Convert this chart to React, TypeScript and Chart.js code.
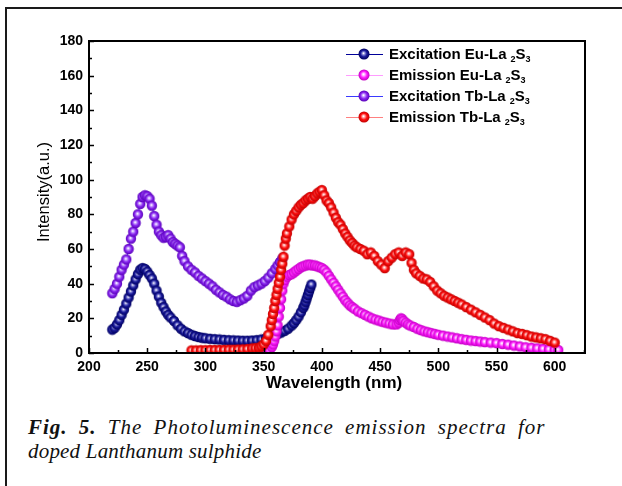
import React, { useEffect, useRef } from "react";
import { Chart, registerables } from "chart.js";

Chart.register(...registerables);

// ---------- data ----------
const excEuWl = [220,222,224,226,228,230,232,234,236,238,240,242,244,246,248,250,252,254,256,258,260,262,264,266,268,270,
  273,276,279,282,285,288,291,294,297,300,
  304,308,312,316,320,324,328,332,336,340,
  344,348,352,356,
  359,362,365,368,371,374,
  376,378,380,382,384,
  385,386,387,388,389,390,391];
const excEuVal = [13.5,14.5,16.5,19,22,25,28.5,32,35.5,39,42.5,45.5,48,49,48.5,47,45,43,40,36,32.5,29,26.5,24,22,20.5,
  18.5,16,14,12.5,11.5,10.5,9.8,9.2,8.8,8.5,
  8.2,8,7.8,7.6,7.4,7.3,7.2,7.1,7.1,7.2,
  7.4,7.8,8.5,9.4,
  10.2,11,11.8,12.8,14,15.8,
  17.2,19,21,23.5,26,
  27.5,29.5,31.5,33.5,35.5,37.5,39.5];

const emEuWl = [350,353,355,357,
  358,359,360,361,362,363,364,365,366,367,368,
  370,372,374,376,378,380,382,384,386,388,390,392,394,396,398,400,402,404,406,408,410,412,414,416,418,420,422,424,426,428,
  431,434,437,440,443,446,449,452,455,458,461,464,
  466,467,468,469,470,
  472,474,476,
  479,482,485,488,491,494,497,
  500,504,508,512,516,520,524,528,532,536,540,
  545,550,555,560,565,570,575,580,585,590,595,600,
  603];
const emEuVal = [0.5,1,1.8,3.5,
  5,7,9.5,12.5,16,21,26,31,36,40,42,
  44,45,45.5,46.5,47.5,48.5,49.5,50,50.5,51,51,50.5,50.5,50,49.5,49,48,46.5,44.5,42.5,40.5,38.5,36.5,34.5,32.5,30.5,29,27.5,26.5,25.5,
  24,23,22,21,20,19.3,18.7,18,17.5,17,16.5,16.5,
  17.5,19,20,19.5,18.5,
  17.5,16.5,15.8,
  15,14,13.2,12.5,12,11.5,11,
  10.5,10,9.5,9,8.5,8,7.6,7.2,6.9,6.6,6.3,
  6,5.7,5.2,4.8,4.3,3.8,3.3,3,2.7,2.4,2.1,1.9,
  1.7];

const excTbWl = [220,222,224,226,228,230,232,234,236,238,240,242,244,246,248,250,252,254,256,258,260,262,264,266,268,270,272,274,276,278,280,282,
  285,288,291,294,297,300,303,306,309,312,315,318,321,324,327,330,333,336,339,342,345,348,351,354,357,360,
  362,364,366];
const excTbVal = [34.5,37,40,44,48,51,54,60,66,70,75,80,86,90,91,90.5,89,85,79,74,70,68,66.5,67,68,66,64,63,62,61,56,53,
  50,48,46.5,44.5,43,41.5,40,38.5,36.5,35,33.5,32.5,31,30,29.5,30.5,31.5,33,36,38,39,40,41.5,43.5,46,48.5,
  50.5,52.5,54.5];

const emTbWl = [288,292,296,300,304,308,312,316,320,324,328,332,336,340,
  343,346,348,350,352,354,356,
  357,358,359,360,361,362,363,364,365,366,367,368,369,370,
  372,374,376,378,380,382,384,386,388,390,392,394,396,398,400,402,404,406,408,410,412,414,416,418,420,422,424,426,428,430,
  433,436,439,442,445,448,451,454,457,460,463,466,469,472,475,
  477,479,481,
  484,487,490,493,496,499,502,505,508,511,514,517,520,
  524,528,532,536,540,544,548,552,556,560,564,568,572,576,580,584,588,592,596,600];
const emTbVal = [1.5,1.5,1.6,1.6,1.7,1.7,1.8,1.8,1.9,1.9,2,2.1,2.3,2.6,
  2.8,3,3.8,5,7,10.5,15.5,
  19,22.5,26,30,33.5,37,40.5,44,48,51.5,55.5,62,66,69,
  73,77,80,82,84,85.5,86.5,88,89,90,89,90.5,92,93,94,91,88,86.5,84,81,78,75.5,74,71.5,69,67,65,63.5,62,61,
  60,59,57,58,56,53,51,49,53,55,57,58,56,58,57,
  52,48,46,
  44.5,43,42.5,41,38.5,36,34.5,33,32,31,30,29,28,
  26.5,25,23.5,22,20.5,19,17,15.5,14.5,13.5,12.5,11.5,11,10.3,9.5,9,8.5,8,7,6];

const seriesNames = ["Excitation Eu-La", "Emission Eu-La", "Excitation Tb-La", "Emission Tb-La"];
const xTickValues = [200, 250, 300, 350, 400, 450, 500, 550, 600];
const yTickValues = [0, 20, 40, 60, 80, 100, 120, 140, 160, 180];
const xTitle = "Wavelength (nm)";
const yTitle = "Intensity(a.u.)";

// ---------- styles ----------
const ballStyles = [
  { base: "#1a1a9a", light: "#8a8ad8", dark: "#000060", line: "#000099" },
  { base: "#ff1cff", light: "#ffb0ff", dark: "#c000c0", line: "#ff9cff" },
  { base: "#8a28f0", light: "#c8a0ff", dark: "#5800b8", line: "#3a3aff" },
  { base: "#ff1010", light: "#ffa0a0", dark: "#c00000", line: "#ff8080" },
];

function makeBall(s: { base: string; light: string; dark: string }, r: number) {
  const c = document.createElement("canvas");
  const size = Math.ceil(r * 2 + 1);
  c.width = size;
  c.height = size;
  const g = c.getContext("2d")!;
  const cx = size / 2, cy = size / 2;
  const grad = g.createRadialGradient(cx - r * 0.1, cy - r * 0.15, r * 0.05, cx, cy, r);
  grad.addColorStop(0, "#ffffff");
  grad.addColorStop(0.22, s.light);
  grad.addColorStop(0.55, s.base);
  grad.addColorStop(1, s.dark);
  g.fillStyle = grad;
  g.beginPath();
  g.arc(cx, cy, r, 0, Math.PI * 2);
  g.fill();
  return c;
}

const FONT = '"Liberation Sans", Arial, Helvetica, sans-serif';

export default function App() {
  const ref = useRef<HTMLCanvasElement | null>(null);

  useEffect(() => {
    if (!ref.current) return;
    const balls = ballStyles.map((s) => makeBall(s, 5.2));
    const legendBalls = ballStyles.map((s) => makeBall(s, 5.5));

    const series = [
      { wl: excEuWl, val: excEuVal, order: 2 },
      { wl: emEuWl, val: emEuVal, order: 1 },
      { wl: excTbWl, val: excTbVal, order: 3 },
      { wl: emTbWl, val: emTbVal, order: 0 },
    ];

    const decor = {
      id: "decor",
      afterDraw(chart: any) {
        const { ctx, chartArea: a, scales } = chart;
        ctx.save();
        ctx.strokeStyle = "#000";
        ctx.lineWidth = 2;
        ctx.strokeRect(a.left, a.top, a.right - a.left, a.bottom - a.top);
        ctx.lineWidth = 1.5;
        ctx.beginPath();
        for (let v = 200; v <= 625; v += 25) {
          const px = Math.round(scales.x.getPixelForValue(v)) + 0.5;
          const len = v % 50 === 0 ? 5 : 3;
          ctx.moveTo(px, a.bottom);
          ctx.lineTo(px, a.bottom - len);
        }
        for (let v = 0; v <= 180; v += 10) {
          const py = Math.round(scales.y.getPixelForValue(v)) + 0.5;
          const len = v % 20 === 0 ? 5 : 3;
          ctx.moveTo(a.left, py);
          ctx.lineTo(a.left + len, py);
        }
        ctx.stroke();

        // axis titles
        ctx.fillStyle = "#000";
        ctx.textAlign = "center";
        ctx.textBaseline = "middle";
        ctx.font = `bold 17px ${FONT}`;
        ctx.fillText(xTitle, 334, 383);
        ctx.save();
        ctx.translate(44, 192);
        ctx.rotate(-Math.PI / 2);
        ctx.font = `16.5px ${FONT}`;
        ctx.fillText(yTitle, 0, 0);
        ctx.restore();

        // legend
        const rows = [54, 75, 96, 117];
        rows.forEach((y, i) => {
          ctx.strokeStyle = ballStyles[i].line;
          ctx.lineWidth = 1;
          ctx.beginPath();
          ctx.moveTo(346, y + 0.5);
          ctx.lineTo(383, y + 0.5);
          ctx.stroke();
          const b = legendBalls[i];
          ctx.drawImage(b, 364 - b.width / 2, y - b.height / 2);
          ctx.textAlign = "left";
          ctx.textBaseline = "alphabetic";
          ctx.fillStyle = "#000";
          let x = 389;
          ctx.font = `bold 15px ${FONT}`;
          ctx.fillText(seriesNames[i], x, y + 5);
          x += ctx.measureText(seriesNames[i]).width + 4;
          ctx.font = `bold 9px ${FONT}`;
          ctx.fillText("2", x, y + 8);
          x += ctx.measureText("2").width;
          ctx.font = `bold 15px ${FONT}`;
          ctx.fillText("S", x, y + 5);
          x += ctx.measureText("S").width;
          ctx.font = `bold 9px ${FONT}`;
          ctx.fillText("3", x, y + 8);
        });
        ctx.restore();
      },
    };

    const chart = new Chart(ref.current, {
      type: "scatter",
      data: {
        datasets: series.map((s, i) => ({
          label: seriesNames[i],
          data: s.wl.map((w, k) => ({ x: w, y: s.val[k] })),
          showLine: true,
          borderColor: ballStyles[i].line,
          borderWidth: 1,
          pointStyle: balls[i] as any,
          pointRadius: 5,
          pointHoverRadius: 5,
          order: s.order,
        })),
      },
      options: {
        animation: false,
        responsive: false,
        events: [],
        layout: { padding: { left: 0, top: 41, right: 37, bottom: 0 } },
        plugins: { legend: { display: false }, tooltip: { enabled: false } },
        scales: {
          x: {
            type: "linear",
            min: 200,
            max: 626,
            grid: { display: false, drawTicks: false },
            border: { display: false },
            afterBuildTicks: (s: any) => {
              s.ticks = xTickValues.map((v) => ({ value: v }));
            },
            afterFit: (s: any) => {
              s.height = 47;
            },
            ticks: {
              color: "#000",
              padding: 6,
              maxRotation: 0,
              autoSkip: false,
              font: { family: FONT, size: 14, weight: "bold" },
            },
          },
          y: {
            type: "linear",
            min: 0,
            max: 180,
            grid: { display: false, drawTicks: false },
            border: { display: false },
            afterBuildTicks: (s: any) => {
              s.ticks = yTickValues.map((v) => ({ value: v }));
            },
            afterFit: (s: any) => {
              s.width = 89;
            },
            ticks: {
              color: "#000",
              padding: 6,
              font: { family: FONT, size: 14, weight: "bold" },
            },
          },
        },
      },
      plugins: [decor],
    } as any);
    return () => chart.destroy();
  }, []);

  const capBase: React.CSSProperties = {
    position: "absolute",
    left: 28,
    fontFamily: '"Liberation Serif", "Times New Roman", serif',
    fontStyle: "italic",
    fontSize: 21,
    lineHeight: "24px",
    color: "#111",
    whiteSpace: "nowrap",
  };

  return (
    <div style={{ position: "fixed", left: 0, top: 0, width: 622, height: 486, background: "#fff", overflow: "hidden" }}>
      <div
        style={{
          position: "absolute",
          left: 5,
          top: 7,
          width: 630,
          height: 490,
          borderLeft: "2px solid #1a1a1a",
          borderTop: "2px solid #1a1a1a",
        }}
      />
      <canvas ref={ref} width={622} height={400} style={{ position: "absolute", left: 0, top: 0, display: "block" }} />
      <div style={{ ...capBase, top: 415, letterSpacing: "1px", wordSpacing: "5px" }}>
        <b>Fig. 5.</b> The Photoluminescence emission spectra for
      </div>
      <div style={{ ...capBase, top: 439, letterSpacing: "0.2px" }}>doped Lanthanum sulphide</div>
    </div>
  );
}
